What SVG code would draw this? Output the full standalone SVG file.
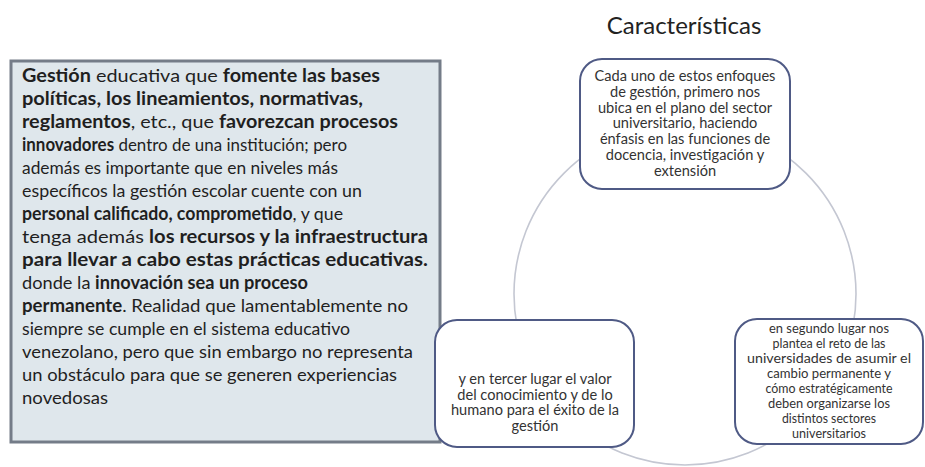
<svg xmlns="http://www.w3.org/2000/svg" width="925" height="467" viewBox="0 0 925 467">
<style>
  .lt { font-family: "Lato", "Open Sans", "Liberation Sans", sans-serif; font-size: 18px; fill: #1f1f1f; }
  .b { font-weight: bold; }
  .node rect { fill: #ffffff; stroke: #4f5a85; stroke-width: 2; }
  .nt { font-family: "Lato", "Open Sans", "Liberation Sans", sans-serif; font-size: 14.6px; fill: #333333; text-anchor: middle; }
  .ns { font-size: 13.3px; }
  .title { font-family: "Lato", "Open Sans", "Liberation Sans", sans-serif; font-size: 24px; fill: #222222; text-anchor: middle; }
</style>
<rect width="925" height="467" fill="#ffffff"/>
<g id="left-box">
  <rect x="11" y="61" width="429" height="381" fill="#dfe7ec" stroke="#747c88" stroke-width="3"/>
  <text class="lt" x="22" y="82" textLength="358" lengthAdjust="spacingAndGlyphs"><tspan class="b">Gestión</tspan> educativa que <tspan class="b">fomente las bases</tspan></text>
  <text class="lt b" x="22" y="105" textLength="341" lengthAdjust="spacingAndGlyphs">políticas, los lineamientos, normativas,</text>
  <text class="lt" x="22" y="128" textLength="376" lengthAdjust="spacingAndGlyphs"><tspan class="b">reglamentos</tspan>, etc., que <tspan class="b">favorezcan procesos</tspan></text>
  <text class="lt" x="22" y="151" textLength="325" lengthAdjust="spacingAndGlyphs"><tspan class="b">innovadores</tspan> dentro de una institución; pero</text>
  <text class="lt" x="22" y="174" textLength="316" lengthAdjust="spacingAndGlyphs">además es importante que en niveles más</text>
  <text class="lt" x="22" y="197" textLength="340" lengthAdjust="spacingAndGlyphs">específicos la gestión escolar cuente con un</text>
  <text class="lt" x="22" y="220" textLength="321" lengthAdjust="spacingAndGlyphs"><tspan class="b">personal calificado, comprometido</tspan>, y que</text>
  <text class="lt" x="22" y="243" textLength="406" lengthAdjust="spacingAndGlyphs">tenga además <tspan class="b">los recursos y la infraestructura</tspan></text>
  <text class="lt b" x="22" y="266" textLength="406" lengthAdjust="spacingAndGlyphs">para llevar a cabo estas prácticas educativas.</text>
  <text class="lt" x="22" y="289" textLength="286" lengthAdjust="spacingAndGlyphs">donde la <tspan class="b">innovación sea un proceso</tspan></text>
  <text class="lt" x="22" y="312" textLength="386" lengthAdjust="spacingAndGlyphs"><tspan class="b">permanente</tspan>. Realidad que lamentablemente no</text>
  <text class="lt" x="22" y="335" textLength="328" lengthAdjust="spacingAndGlyphs">siempre se cumple en el sistema educativo</text>
  <text class="lt" x="22" y="358" textLength="391" lengthAdjust="spacingAndGlyphs">venezolano, pero que sin embargo no representa</text>
  <text class="lt" x="22" y="381" textLength="375" lengthAdjust="spacingAndGlyphs">un obstáculo para que se generen experiencias</text>
  <text class="lt" x="22" y="404" textLength="86" lengthAdjust="spacingAndGlyphs">novedosas</text>
</g>
<text id="title" class="title" x="684" y="34">Características</text>
<g id="connectors">
  <circle cx="685" cy="294" r="171" fill="none" stroke="#c4c7d2" stroke-width="1.6"/>
</g>
<g id="node-top" class="node">
  <rect x="580" y="59" width="210" height="130" rx="22"/>
  <text class="nt" x="685" y="81">Cada uno de estos enfoques</text>
  <text class="nt" x="685" y="96.8">de gestión, primero nos</text>
  <text class="nt" x="685" y="112.6">ubica en el plano del sector</text>
  <text class="nt" x="685" y="128.4">universitario, haciendo</text>
  <text class="nt" x="685" y="144.2">énfasis en las funciones de</text>
  <text class="nt" x="685" y="160">docencia, investigación y</text>
  <text class="nt" x="685" y="175.8">extensión</text>
</g>
<g id="node-right" class="node">
  <rect x="735" y="319" width="188" height="125" rx="22"/>
  <text class="nt ns" x="829" y="333" textLength="120" lengthAdjust="spacingAndGlyphs">en segundo lugar nos</text>
  <text class="nt ns" x="829" y="348" textLength="113" lengthAdjust="spacingAndGlyphs">plantea el reto de las</text>
  <text class="nt ns" x="829" y="363" textLength="164" lengthAdjust="spacingAndGlyphs">universidades de asumir el</text>
  <text class="nt ns" x="829" y="378" textLength="124" lengthAdjust="spacingAndGlyphs">cambio permanente y</text>
  <text class="nt ns" x="829" y="393" textLength="127" lengthAdjust="spacingAndGlyphs">cómo estratégicamente</text>
  <text class="nt ns" x="829" y="408" textLength="122" lengthAdjust="spacingAndGlyphs">deben organizarse los</text>
  <text class="nt ns" x="829" y="423" textLength="94" lengthAdjust="spacingAndGlyphs">distintos sectores</text>
  <text class="nt ns" x="829" y="438" textLength="74" lengthAdjust="spacingAndGlyphs">universitarios</text>
</g>
<g id="node-left" class="node">
  <rect x="435" y="320" width="199" height="127" rx="22"/>
  <text class="nt" x="535" y="384">y en tercer lugar el valor</text>
  <text class="nt" x="535" y="399.5">del conocimiento y de lo</text>
  <text class="nt" x="535" y="415">humano para el éxito de la</text>
  <text class="nt" x="535" y="430.5">gestión</text>
</g>
</svg>
